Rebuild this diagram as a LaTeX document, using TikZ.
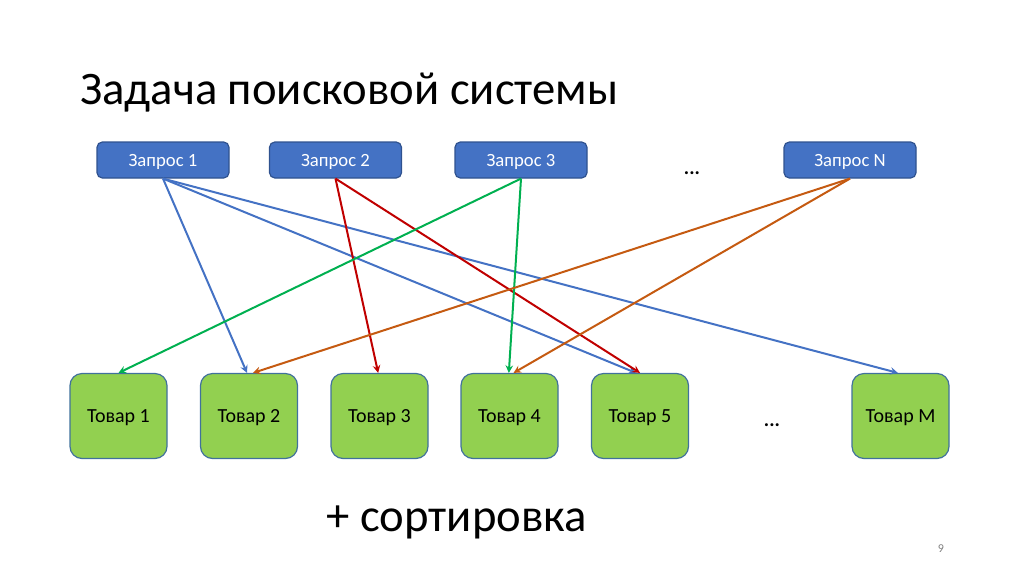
\documentclass[tikz,border=0pt]{standalone}
\usepackage{fontspec}
\setmainfont{Carlito}
\usepackage{tikz}
\usepackage{xcolor}
\definecolor{zaprosfill}{HTML}{4472C4}
\definecolor{zaprosrand}{HTML}{2F528F}
\definecolor{tovarfill}{HTML}{92D050}
\definecolor{tovarrand}{HTML}{41719C}
\definecolor{linieblau}{HTML}{4472C4}
\definecolor{linierot}{HTML}{C00000}
\definecolor{liniegruen}{HTML}{00B050}
\definecolor{linieorange}{HTML}{C55A11}

\begin{document}
\begin{tikzpicture}[x=0.75pt,y=-0.75pt,
	zapros/.style={draw=zaprosrand,fill=zaprosfill,rounded corners=4pt,line width=0.9pt,
		minimum width=99pt,minimum height=27pt,inner sep=0pt,text depth=0pt,text=white,font=\fontsize{14}{16}\selectfont},
	tovar/.style={draw=tovarrand,fill=tovarfill,rounded corners=9pt,line width=0.9pt,
		minimum width=72.75pt,minimum height=63.75pt,inner sep=0pt,text depth=0pt,font=\fontsize{15}{18}\selectfont},
	pfeil/.style={-stealth,line width=1.5pt}]
			\useasboundingbox (0,0) rectangle (1024,576);
			\node[anchor=base west,inner sep=0pt,font=\fontsize{35}{42}\selectfont] (titel) at (80,104) {Задача поисковой системы};
			\coordinate[] (Z1) at (163,160);
			\coordinate (Z2) at (335.5,160);
			\coordinate[] (Z3) at (521,160);
			\coordinate[] (ZN) at (850,160);
			\foreach \Nombre in {1,2,3,N}
				\node[zapros] (Q\Nombre) at (Z\Nombre) {Запрос \Nombre};
			\node[font=\fontsize{15}{18}\selectfont\bfseries] (punkte1) at (692,173) {...};
			\foreach \Nombre/\X in {1/118.5,2/249,3/379.5,4/509.5,5/640,M/900.5}
				\node[tovar] (T\Nombre) at (\X,416) {Товар \Nombre};
			\node[font=\fontsize{15}{18}\selectfont\bfseries] (punkte2) at (772,425) {...};
			\draw[pfeil,linieblau] (Q1.south) -- ([xshift=-1.5pt]T2.north);
			\draw[pfeil,linieblau] (Q1.south) -- ([xshift=-3pt]T5.north);
			\draw[pfeil,linieblau] (Q1.south) -- ([xshift=-2pt]TM.north);
			\draw[pfeil,linierot] (Q2.south) -- ([xshift=-1pt]T3.north);
			\draw[pfeil,linierot] (Q2.south) -- (T5.north);
			\draw[pfeil,liniegruen] (Q3.south) -- (T1.north);
			\draw[pfeil,liniegruen] (Q3.south) -- ([xshift=-0.5pt]T4.north);
			\draw[pfeil,linieorange] (QN.south) -- ([xshift=3pt]T2.north);
			\draw[pfeil,linieorange] (QN.south) -- ([xshift=3pt]T4.north);
			\node[anchor=base west,inner sep=0pt,font=\fontsize{35}{42}\selectfont] (sortierung) at (326,531) {+ сортировка};
			\node[anchor=base,inner sep=0pt,text=gray,font=\fontsize{9}{11}\selectfont] (seite) at (941,552) {9};
		\end{tikzpicture}
\end{document}
